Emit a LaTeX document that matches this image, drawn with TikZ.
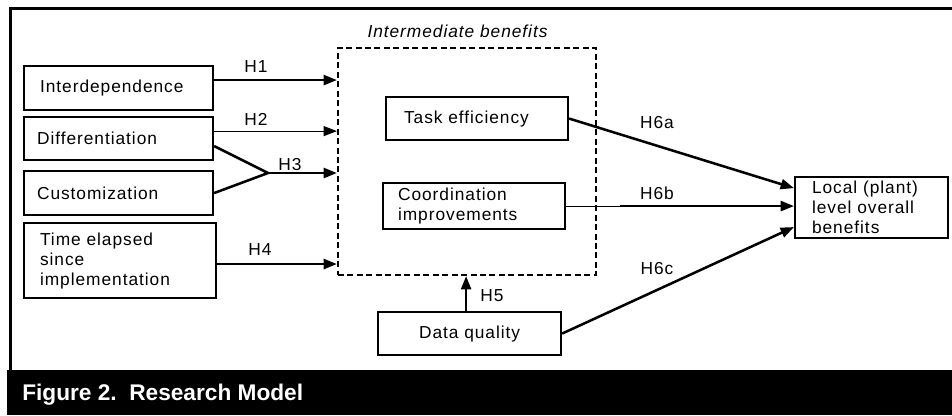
\documentclass[tikz,border=0pt]{standalone}
\usepackage{fontspec}
\setmainfont{Liberation Sans}
\newfontfamily\spacedsans{Liberation Sans}[LetterSpace=5.5]
\usetikzlibrary{arrows.meta}

\tikzset{
  lbl/.style={font=\spacedsans\fontsize{13}{15}\selectfont},
  box/.style={lbl, draw, line width=1.6pt, anchor=north west, inner ysep=0pt,
              align=left},
  heavy/.style={line width=1.9pt},
  light/.style={line width=0.8pt},
  tip/.style={-{Triangle[length=10pt,width=7.5pt]}},
  arr/.style={heavy, tip},
  hyp/.style={lbl, anchor=base},
}

\begin{document}
\begin{tikzpicture}[x=0.75pt, y=-0.75pt]
  \useasboundingbox (0,0) rectangle (952,415);

  % frame and caption band
  \fill[black] (7,370) rectangle (952,415);
  \draw[line width=2.25pt] (10,371) -- (10,8) -- (952,8);
  \node[anchor=base west, text=white, inner sep=0pt,
        font=\bfseries\fontsize{17}{20}\selectfont] (cap) at (22,400)
        {Figure 2.\ \ Research Model};

  % antecedents
  \node[box, text width=117.75pt, inner xsep=12pt, minimum height=33pt]
       (int) at (23,65) {Interdependence};
  \node[box, text width=122.25pt, inner xsep=9.75pt, minimum height=32.25pt]
       (diff) at (23,116) {Differentiation};
  \node[box, text width=122.25pt, inner xsep=9.75pt, minimum height=33pt]
       (cust) at (23,170) {Customization};
  \node[box, text width=120pt, inner xsep=12pt, minimum height=56.25pt]
       (time) at (23,222) {Time elapsed\\since\\implementation};

  % intermediate benefits group
  \node[draw, line width=1.6pt, dash pattern=on 4.5pt off 2.6pt,
        minimum width=193.5pt, minimum height=170.25pt] (ib) at (467,161.5) {};
  \node[lbl, font=\spacedsans\itshape\fontsize{13}{15}\selectfont, anchor=base]
       (ibt) at (457.5,37) {Intermediate benefits};
  \node[box, text width=109.5pt, inner xsep=13.5pt, minimum height=32.25pt]
       (task) at (385,96) {Task efficiency};
  \node[box, text width=114pt, inner xsep=11.25pt, minimum height=34.5pt]
       (coord) at (382,182) {Coordination\\improvements};

  % data quality and outcome
  \node[box, align=center, text width=122.25pt, inner xsep=7.5pt,
        minimum height=32.25pt] (dq) at (377,311) {Data quality};
  \node[box, text width=89.25pt, inner xsep=12.75pt, minimum height=45.75pt]
       (loc) at (794,176) {Local (plant)\\level overall\\benefits};

  % H1 - H4
  \draw[arr] ([yshift=6pt]int.east) -- ([yshift=6pt]int.east -| ib.west);
  \draw[light, tip]
       ([yshift=5.6pt]diff.east) -- ([yshift=5.6pt]diff.east -| ib.west);
  \coordinate (j3) at (268,173);
  \draw[heavy] ([yshift=-5.6pt]diff.east) -- (j3) -- (cust.east);
  \draw[arr] (j3) -- (j3 -| ib.west);
  \draw[arr] ([yshift=-2.6pt]time.east) -- ([yshift=-2.6pt]time.east -| ib.west);

  % H5
  \draw[arr] ([xshift=-2.6pt]dq.north) -- ([xshift=-2.6pt]dq.north |- ib.south);

  % H6a - H6c
  \draw[arr] (task.east) -- ([yshift=14.6pt]loc.west);
  \path (coord.east) -- (coord.east -| loc.west) coordinate[pos=0.235] (b6);
  \draw[light] (coord.east) -- (b6);
  \draw[arr] (b6) -- (coord.east -| loc.west);
  \draw[arr] (dq.east) -- ([yshift=-14.6pt]loc.west);

  % hypothesis labels
  \node[hyp] (h1) at (256,72) {H1};
  \node[hyp] (h2) at (256,125) {H2};
  \node[hyp] (h3) at (290,170) {H3};
  \node[hyp] (h4) at (260,255) {H4};
  \node[hyp] (h5) at (492,301) {H5};
  \node[hyp] (h6a) at (657,128) {H6a};
  \node[hyp] (h6b) at (657,199) {H6b};
  \node[hyp] (h6c) at (657,274) {H6c};
\end{tikzpicture}
\end{document}
